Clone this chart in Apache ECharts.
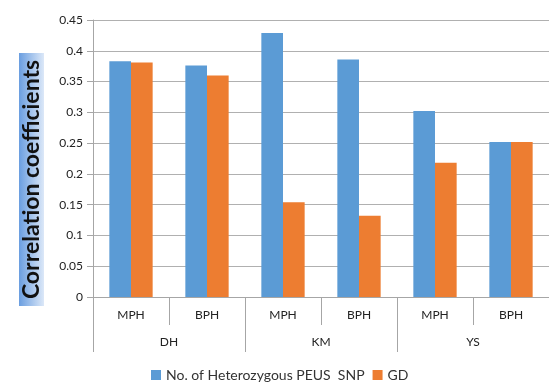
<!DOCTYPE html>
<html>
<head>
<meta charset="utf-8">
<script src="https://cdn.jsdelivr.net/npm/echarts@6/dist/echarts.min.js"></script>
<style>
  html, body { margin: 0; padding: 0; background: #fff; }
  #myChart { width: 549px; height: 383px; }
</style>
</head>
<body>
<div id="myChart"></div>
<script>
// data
var subCategories = ['MPH', 'BPH', 'MPH', 'BPH', 'MPH', 'BPH'];
var groups = ['DH', 'KM', 'YS'];
var snpValues = [0.383, 0.376, 0.429, 0.386, 0.302, 0.252];
var gdValues = [0.381, 0.360, 0.154, 0.132, 0.218, 0.252];
var seriesNames = ['No. of Heterozygous PEUS  SNP', 'GD'];

var fontFam = 'Lato, "Open Sans", sans-serif';
var axisGray = '#a6a6a6';

var myChart = echarts.init(document.getElementById('myChart'));

var option = {
  animation: false,
  textStyle: { fontFamily: fontFam },
  grid: { left: 93, right: -8, top: 20, bottom: 86, containLabel: false },
  legend: {
    data: seriesNames,
    left: 146,
    top: 363,
    icon: 'rect',
    itemWidth: 10,
    itemHeight: 10,
    itemGap: 8,
    textStyle: { fontSize: 14, color: '#333', fontFamily: fontFam }
  },
  xAxis: [{
    type: 'category',
    data: subCategories,
    axisLine: { lineStyle: { color: axisGray, width: 1 } },
    axisTick: { show: true, length: 28, interval: 0, lineStyle: { color: axisGray } },
    axisLabel: { interval: 0, margin: 12, fontSize: 12, color: '#222' }
  }, {
    type: 'category',
    data: groups,
    position: 'bottom',
    axisLine: { show: false },
    axisTick: { show: true, length: 55, interval: 0, lineStyle: { color: axisGray } },
    axisLabel: { interval: 0, margin: 39, fontSize: 12, color: '#222' }
  }],
  yAxis: {
    type: 'value',
    min: 0,
    max: 0.45,
    interval: 0.05,
    axisLine: { show: true, lineStyle: { color: axisGray } },
    axisTick: { show: true, length: 6, lineStyle: { color: axisGray } },
    axisLabel: { margin: 10, fontSize: 12, color: '#222' },
    splitLine: { lineStyle: { color: '#b0b0b0', width: 1 } }
  },
  series: [{
    name: seriesNames[0],
    type: 'bar',
    data: snpValues,
    barGap: '0%',
    barCategoryGap: '43%',
    itemStyle: { color: '#5b9bd5' }
  }, {
    name: seriesNames[1],
    type: 'bar',
    data: gdValues,
    itemStyle: { color: '#ed7d31' }
  }],
  graphic: [{
    type: 'rect',
    shape: { x: 19, y: 53, width: 25, height: 253 },
    style: {
      fill: new echarts.graphic.LinearGradient(0, 0, 1, 0, [
        { offset: 0, color: '#6a9ee0' },
        { offset: 1, color: '#dce8f8' }
      ])
    }
  }, {
    type: 'text',
    x: 32,
    y: 179.5,
    rotation: Math.PI / 2,
    style: {
      text: 'Correlation coefficients',
      font: 'bold 23px ' + fontFam,
      fill: '#111',
      textAlign: 'center',
      textVerticalAlign: 'middle'
    }
  }]
};

myChart.setOption(option);
</script>
</body>
</html>
